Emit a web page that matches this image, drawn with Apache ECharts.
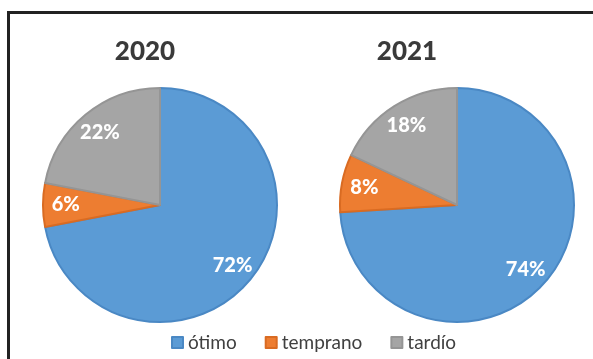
<!DOCTYPE html>
<html>
<head>
<meta charset="utf-8">
<script src="https://cdn.jsdelivr.net/npm/echarts@6/dist/echarts.min.js"></script>
<style>html,body{margin:0;padding:0;background:#fff}#c{width:593px;height:359px}</style>
</head>
<body>
<div id="c"></div>
<script>
const categories = ['ótimo', 'temprano', 'tardío'];
const years = ['2020', '2021'];
const values2020 = [72, 6, 22];
const values2021 = [74, 8, 18];

const colors = ['#5B9BD5', '#ED7D31', '#A5A5A5'];
const borders = ['#4A88C4', '#D96B22', '#959595'];
const F = 'Lato, "Open Sans", sans-serif';

function dataOf(vals) {
  return categories.map((n, i) => ({
    name: n, value: vals[i],
    itemStyle: { color: colors[i], borderColor: borders[i], borderWidth: 2 }
  }));
}
function labelsOf(vals) {
  return categories.map((n, i) => ({ name: n, value: vals[i] }));
}

const centers = [[160, 205], [457, 205]];
const R = 117;
const allVals = [values2020, values2021];

const series = [];
allVals.forEach((vals, k) => {
  series.push({
    type: 'pie', center: centers[k], radius: [0, R], startAngle: 90, clockwise: true,
    silent: true, label: { show: false }, labelLine: { show: false },
    data: dataOf(vals), z: 2
  });
  series.push({
    type: 'pie', center: centers[k], radius: [R * 0.56, R], startAngle: 90, clockwise: true,
    silent: true, labelLine: { show: false },
    itemStyle: { color: 'rgba(0,0,0,0)', borderWidth: 0 },
    label: { show: true, position: 'inside', formatter: '{c}%', color: '#fff',
      fontFamily: F, fontWeight: 900, fontSize: 20 },
    data: labelsOf(vals), z: 3
  });
});

const chart = echarts.init(document.getElementById('c'));
chart.setOption({
  animation: false,
  color: colors,
  title: [
    { text: years[0], left: 140, top: 34, textAlign: 'center',
      textStyle: { fontFamily: F, fontWeight: 900, fontSize: 26, color: '#3a3a3a' } },
    { text: years[1], left: 402, top: 34, textAlign: 'center',
      textStyle: { fontFamily: F, fontWeight: 900, fontSize: 26, color: '#3a3a3a' } }
  ],
  legend: {
    data: categories, bottom: 2, left: 166, itemWidth: 11, itemHeight: 11, itemGap: 28,
    icon: 'rect', textStyle: { fontFamily: F, fontSize: 19, color: '#404040' }
  },
  graphic: [{
    type: 'rect', shape: { x: 8.5, y: 12.5, width: 700, height: 500 },
    style: { fill: 'none', stroke: '#222', lineWidth: 3 }, silent: true
  }],
  series: series
});
</script>
</body>
</html>
